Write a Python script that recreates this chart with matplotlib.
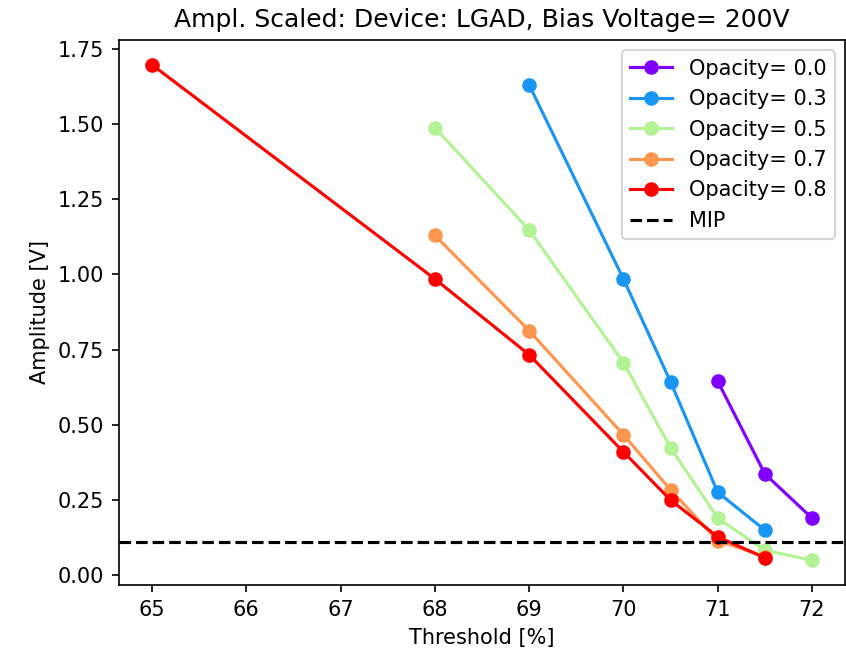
import numpy as np
import matplotlib
matplotlib.use('Agg')
import matplotlib.pyplot as plt

labels = ['Opacity= 0.0', 'Opacity= 0.3', 'Opacity= 0.5', 'Opacity= 0.7', 'Opacity= 0.8']
cpos = [0.0, 0.2, 0.6, 0.8, 1.0]

thr_00 = [71, 71.5, 72]
amp_00 = [0.645, 0.337, 0.19]

thr_03 = [69, 70, 70.5, 71, 71.5]
amp_03 = [1.63, 0.985, 0.643, 0.276, 0.15]

thr_05 = [68, 69, 70, 70.5, 71, 71.5, 72]
amp_05 = [1.488, 1.148, 0.707, 0.424, 0.19, 0.083, 0.05]

thr_07 = [68, 69, 70, 70.5, 71, 71.5]
amp_07 = [1.13, 0.813, 0.467, 0.284, 0.115, 0.062]

thr_08 = [65, 68, 69, 70, 70.5, 71, 71.5]
amp_08 = [1.697, 0.985, 0.733, 0.41, 0.25, 0.128, 0.058]

mip = 0.11

thr = [thr_00, thr_03, thr_05, thr_07, thr_08]
amp = [amp_00, amp_03, amp_05, amp_07, amp_08]

fig = plt.figure(figsize=(846/150, 648/150), dpi=150)
ax = fig.add_axes([119/846, 1-585/648, 726/846, 545/648])
cmap = plt.get_cmap('rainbow')
for x, y, lab, c in zip(thr, amp, labels, cpos):
    ax.plot(x, y, 'o-', color=cmap(c), label=lab)
ax.axhline(mip, color='black', linestyle='--', label='MIP')
ax.set_xlabel('Threshold [%]')
ax.set_ylabel('Amplitude [V]')
ax.set_title('Ampl. Scaled: Device: LGAD, Bias Voltage= 200V')
ax.legend(loc='upper right')
fig.savefig('out.png', dpi=150)
